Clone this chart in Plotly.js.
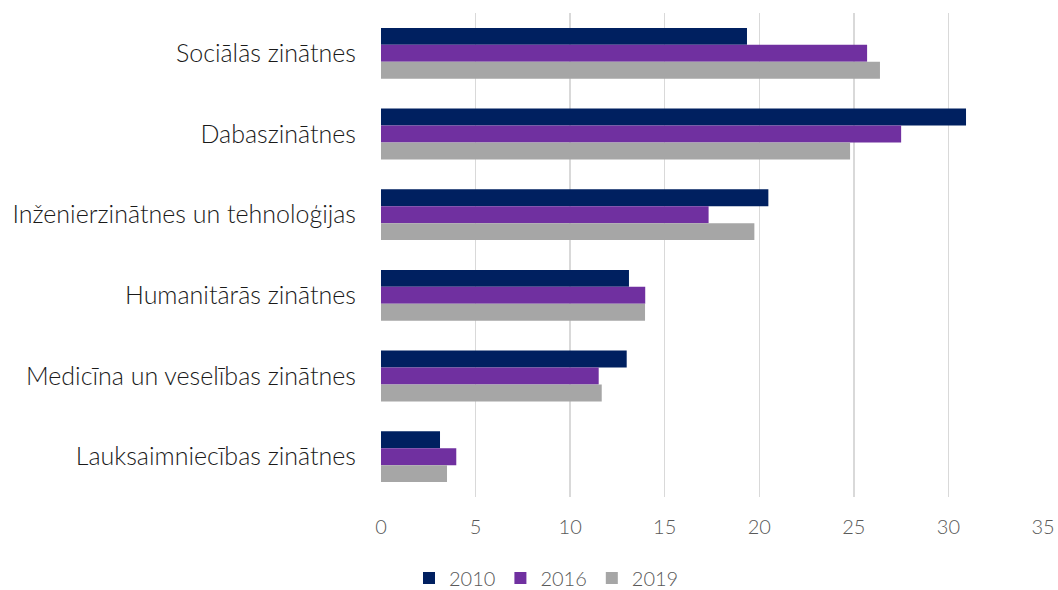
<!DOCTYPE html>
<html>
<head>
<meta charset="utf-8">
<script src="https://cdn.plot.ly/plotly-3.0.1.min.js"></script>
<style>html,body{margin:0;padding:0;background:#fff;}#chart{width:1058px;height:590px;}</style>
</head>
<body>
<div id="chart"></div>
<script>
const categories = [
  "Sociālās zinātnes",
  "Dabaszinātnes",
  "Inženierzinātnes un tehnoloģijas",
  "Humanitārās zinātnes",
  "Medicīna un veselības zinātnes",
  "Lauksaimniecības zinātnes"
];
const seriesNames = ["2010", "2016", "2019"];
const values2010 = [19.35, 30.93, 20.48, 13.11, 12.99, 3.12];
const values2016 = [25.7, 27.5, 17.32, 13.97, 11.51, 3.98];
const values2019 = [26.38, 24.8, 19.74, 13.96, 11.67, 3.49];
const tickValues = [0, 5, 10, 15, 20, 25, 30, 35];
const colors = ["#002060", "#7030A0", "#A6A6A6"];

const allValues = [values2010, values2016, values2019];
const data = allValues.map((vals, i) => ({
  type: "bar",
  orientation: "h",
  name: seriesNames[i],
  x: vals,
  y: categories,
  marker: { color: colors[i], line: { width: 0 } },
  hoverinfo: "x+name"
}));

const FONT = "Lato, 'Open Sans', sans-serif";
const layout = {
  width: 1058,
  height: 590,
  margin: { l: 381, r: 15, t: 13, b: 93, autoexpand: false },
  paper_bgcolor: "#ffffff",
  plot_bgcolor: "#ffffff",
  font: { family: FONT, color: "#595959" },
  barmode: "group",
  bargap: 0.37,
  bargroupgap: 0,
  xaxis: {
    range: [0, 35],
    tickvals: tickValues,
    ticktext: tickValues.map(String),
    showgrid: true,
    gridcolor: "#D9D9D9",
    gridwidth: 1.5,
    zeroline: false,
    showline: false,
    ticks: "",
    ticklabelstandoff: 16,
    tickfont: { size: 20, color: "#595959", family: FONT, weight: 300 },
    fixedrange: true
  },
  yaxis: {
    autorange: "reversed",
    showgrid: false,
    zeroline: false,
    showline: false,
    ticks: "",
    ticklabelstandoff: 24,
    tickfont: { size: 25, color: "#1a1a1a", family: FONT, weight: 300 },
    fixedrange: true
  },
  showlegend: true,
  legend: {
    orientation: "h",
    x: 0.25,
    xanchor: "center",
    y: -0.127,
    yanchor: "top",
    font: { size: 20, color: "#595959", family: FONT, weight: 300 },
    traceorder: "normal"
  }
};

Plotly.newPlot("chart", data, layout, { displayModeBar: false, staticPlot: true });
</script>
</body>
</html>
